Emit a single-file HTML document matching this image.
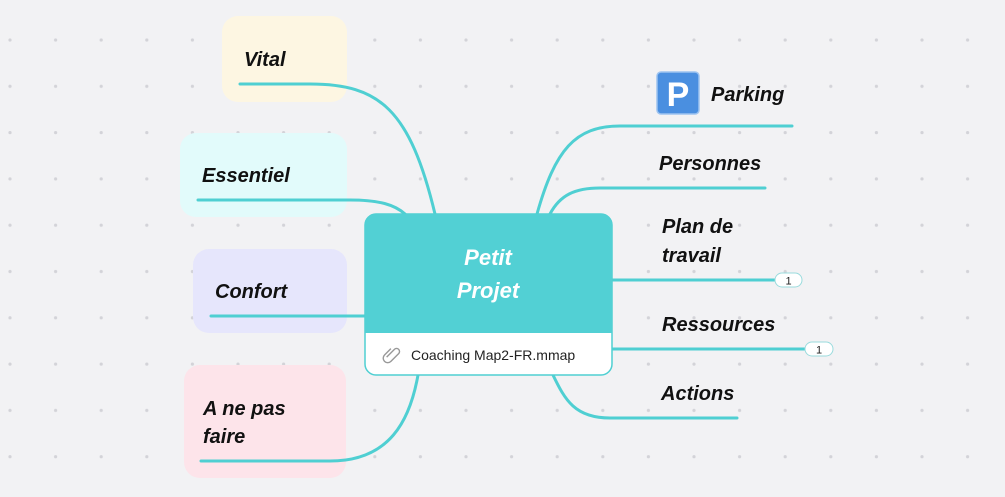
<!DOCTYPE html>
<html><head><meta charset="utf-8"><style>
html,body{margin:0;padding:0;background:#f2f2f4;}
svg{display:block}
text{font-family:"Liberation Sans",sans-serif;}
.t{font-weight:bold;font-style:italic;font-size:20px;fill:#111;}
</style></head><body>
<svg width="1005" height="497" viewBox="0 0 1005 497" xmlns="http://www.w3.org/2000/svg">
<defs>
<pattern id="dots" x="-12.8" y="17" width="45.6" height="46.3" patternUnits="userSpaceOnUse">
<circle cx="22.8" cy="23" r="1.6" fill="#d3d3d8"/>
</pattern>
</defs>
<rect width="1005" height="497" fill="#f2f2f4"/>
<rect width="1005" height="497" fill="url(#dots)"/>

<!-- left boxes -->
<rect x="222" y="16" width="125" height="86" rx="16" fill="#fdf6e2"/>
<rect x="180" y="133" width="167" height="84" rx="16" fill="#e2fbfb"/>
<rect x="193" y="249" width="154" height="84" rx="16" fill="#e6e6fc"/>
<rect x="184" y="365" width="162" height="113" rx="16" fill="#fde4ea"/>

<g fill="none" stroke="#4fcfd2" stroke-width="3" stroke-linecap="round">
<path d="M240 84 H310 C380 84 410 110 435 214"/>
<path d="M198 200 H350 C380 200 395 205 405 214"/>
<path d="M211 316 H366"/>
<path d="M201 461 H330 C390 461 410 420 418 375"/>
<path d="M537 214 C555 150 575 126 620 126 H792"/>
<path d="M550 214 C560 195 575 188 600 188 H765"/>
<path d="M612 280 H776"/>
<path d="M612 349 H806"/>
<path d="M553 375 C565 400 575 418 610 418 H737"/>
</g>

<!-- badges -->
<rect x="775" y="273" width="27" height="14" rx="7" fill="#fff" stroke="#9adbdd" stroke-width="1"/>
<text x="788.5" y="284.5" font-size="11" text-anchor="middle" fill="#222">1</text>
<rect x="805" y="342" width="28" height="14" rx="7" fill="#fff" stroke="#9adbdd" stroke-width="1"/>
<text x="819" y="353.5" font-size="11" text-anchor="middle" fill="#222">1</text>

<!-- central node -->
<rect x="365" y="214" width="247" height="161" rx="11" fill="#fff" stroke="#4fcfd2" stroke-width="1.5"/>
<path d="M365 225 a11 11 0 0 1 11 -11 H601 a11 11 0 0 1 11 11 V333 H365 Z" fill="#52d0d4"/>
<text x="488" y="265" font-size="22" font-weight="bold" font-style="italic" fill="#fff" text-anchor="middle">Petit</text>
<text x="488" y="298" font-size="22" font-weight="bold" font-style="italic" fill="#fff" text-anchor="middle">Projet</text>
<g transform="translate(393,355) rotate(45)" fill="none" stroke="#999" stroke-width="1.4">
<path d="M-3 6 V-5 a3 3 0 0 1 6 0 V6 a4.5 4.5 0 0 1 -9 0 V-3"/>
</g>
<text x="411" y="360" font-size="14" fill="#222">Coaching Map2-FR.mmap</text>

<!-- left labels -->
<text class="t" x="244" y="66">Vital</text>
<text class="t" x="202" y="182">Essentiel</text>
<text class="t" x="215" y="298">Confort</text>
<text class="t" x="203" y="415">A ne pas</text>
<text class="t" x="203" y="443">faire</text>

<!-- right labels -->
<rect x="657" y="72" width="42" height="42" rx="4" fill="#4a8fe0" stroke="#9cc3f0" stroke-width="1.5"/>
<text x="678" y="106" font-size="34" font-weight="bold" fill="#fff" text-anchor="middle">P</text>
<text class="t" x="711" y="101">Parking</text>
<text class="t" x="659" y="170">Personnes</text>
<text class="t" x="662" y="233">Plan de</text>
<text class="t" x="662" y="262">travail</text>
<text class="t" x="662" y="331">Ressources</text>
<text class="t" x="661" y="400">Actions</text>
</svg>
</body></html>
